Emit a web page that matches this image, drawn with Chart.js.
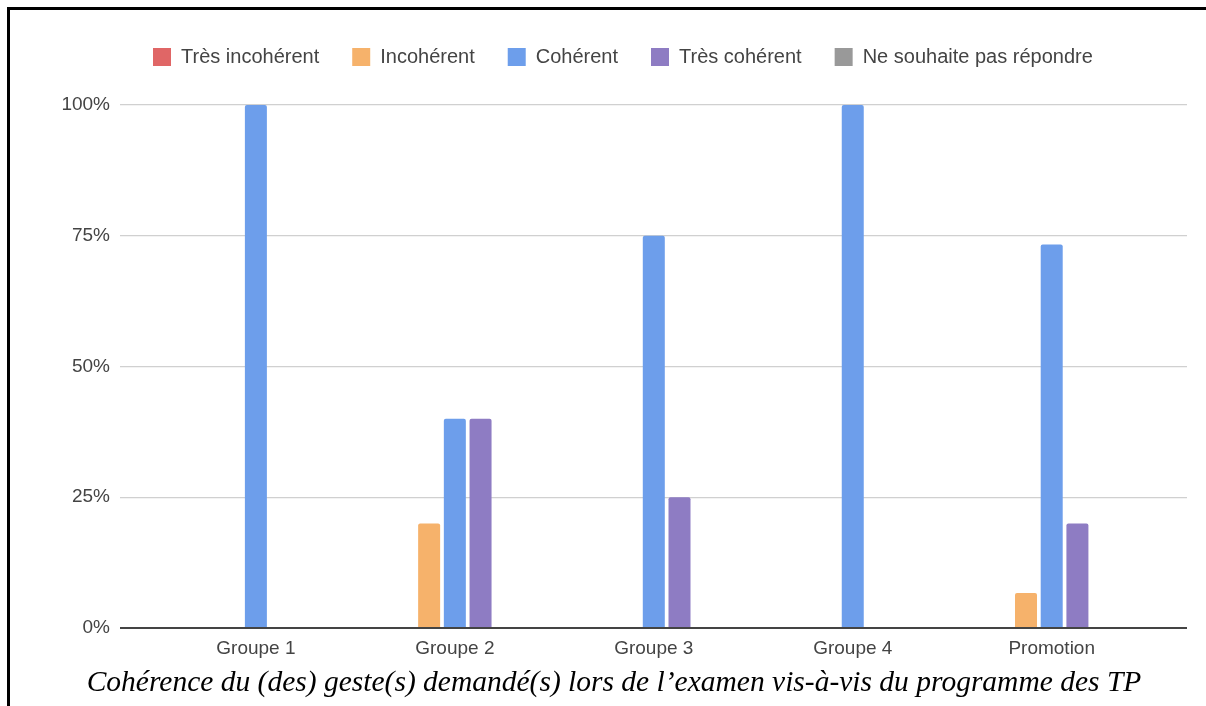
<!DOCTYPE html>
<html>
<head>
<meta charset="utf-8">
<script src="https://cdn.jsdelivr.net/npm/chart.js@4/dist/chart.umd.min.js"></script>
<style>
  html, body { margin: 0; padding: 0; background: #fff; }
  body { width: 1206px; height: 706px; position: relative; overflow: hidden; }
  .frame { position: absolute; left: 7px; top: 7px; right: -10px; bottom: -10px;
           border-left: 3px solid #000; border-top: 3px solid #000; }
  .wrap { position: absolute; left: 0; top: 0; width: 1206px; height: 706px; }
  .caption { position: absolute; left: 0; width: 1228px; top: 664px; text-align: center;
             font-family: "Liberation Serif", "Times New Roman", serif; font-style: italic;
             font-size: 29.5px; line-height: 34px; color: #000; }
</style>
</head>
<body>
<div class="wrap"><canvas id="myChart" width="1206" height="706"></canvas></div>
<div class="frame"></div>
<div class="caption">Cohérence du (des) geste(s) demandé(s) lors de l’examen vis-à-vis du programme des TP</div>
<script>
const categories = ["Groupe 1", "Groupe 2", "Groupe 3", "Groupe 4", "Promotion"];
const seriesNames = ["Très incohérent", "Incohérent", "Cohérent", "Très cohérent", "Ne souhaite pas répondre"];
const seriesColors = ["#e06666", "#f6b26b", "#6d9eeb", "#8e7cc3", "#999999"];

const tresIncoherent = [0, 0, 0, 0, 0];
const incoherent = [0, 20, 0, 0, 6.67];
const coherent = [100, 40, 75, 100, 73.33];
const tresCoherent = [0, 40, 25, 0, 20];
const neSouhaitePas = [0, 0, 0, 0, 0];

const yTicks = [0, 25, 50, 75, 100];

const allValues = [tresIncoherent, incoherent, coherent, tresCoherent, neSouhaitePas];

let ctx = document.getElementById('myChart').getContext('2d');

// legend height fixed so the plot starts where the reference plot starts
const legendHeight = {
  id: 'legendHeight',
  beforeInit(chart) {
    const origFit = chart.legend.fit;
    chart.legend.fit = function () {
      origFit.bind(chart.legend)();
      this.height = 91;
    };
  }
};

let barChart = new Chart(ctx, {
  type: 'bar',
  data: {
    datasets: allValues.map((vals, i) => ({
      label: seriesNames[i],
      data: vals.map((v, j) => ({ x: j, y: v })),
      backgroundColor: seriesColors[i],
      borderRadius: { topLeft: 2, topRight: 2 },
      borderSkipped: 'start',
      categoryPercentage: 0.646,
      barPercentage: 0.856
    }))
  },
  plugins: [legendHeight],
  options: {
    responsive: false,
    animation: false,
    layout: { padding: { top: 14, right: 19, bottom: 38, left: 0 } },
    plugins: {
      legend: {
        position: 'top',
        fullSize: false,
        align: 'start',
        labels: {
          boxWidth: 18,
          boxHeight: 18,
          padding: 33,
          color: '#444',
          font: { family: 'Liberation Sans, Arial, sans-serif', size: 20 }
        }
      },
      tooltip: { enabled: false }
    },
    scales: {
      x: {
        type: 'linear',
        offset: false,
        min: -0.683,
        max: 4.68,
        afterBuildTicks: axis => { axis.ticks = categories.map((c, i) => ({ value: i })) },
        afterFit: axis => { axis.height = 40 },
        ticks: {
          callback: v => categories[v],
          color: '#444',
          padding: 9,
          maxRotation: 0,
          autoSkip: false,
          font: { family: 'Liberation Sans, Arial, sans-serif', size: 19 }
        },
        grid: { display: false, drawTicks: false },
        border: { display: false }
      },
      y: {
        min: 0,
        max: 100,
        afterBuildTicks: axis => { axis.ticks = yTicks.map(v => ({ value: v })) },
        afterFit: axis => { axis.width = 120 },
        ticks: {
          callback: v => v + '%',
          color: '#444',
          padding: 10,
          font: { family: 'Liberation Sans, Arial, sans-serif', size: 19 }
        },
        grid: {
          drawTicks: false,
          color: c => c.tick && c.tick.value === 0 ? '#444' : '#d0d0d0',
          lineWidth: c => c.tick && c.tick.value === 0 ? 2 : 1.2
        },
        border: { display: false }
      }
    }
  }
})
</script>
</body>
</html>
